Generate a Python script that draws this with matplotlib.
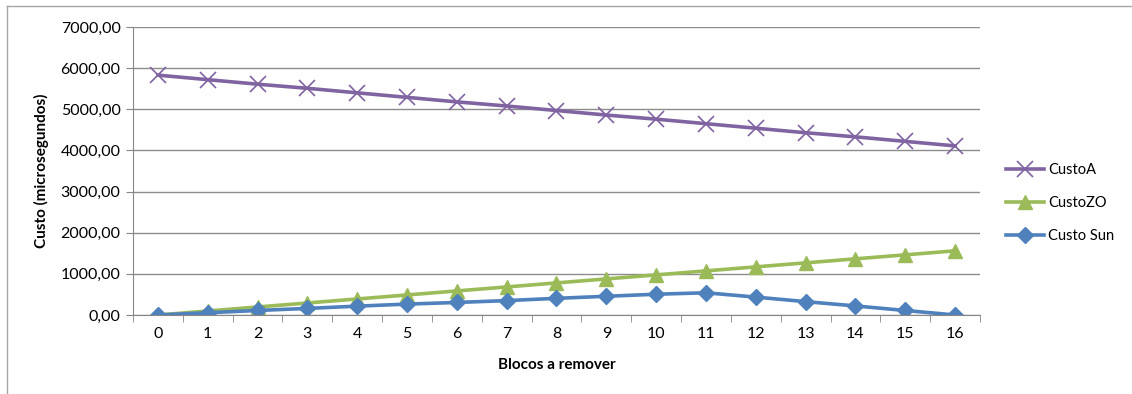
import matplotlib.pyplot as plt
from matplotlib.lines import Line2D
from matplotlib.ticker import FuncFormatter

plt.rcParams['font.family'] = ['Lato', 'DejaVu Sans']

blocos = list(range(17))
custo_a = [5830, 5720, 5610, 5510, 5400, 5290, 5180, 5080, 4970,
           4860, 4760, 4650, 4540, 4430, 4330, 4220, 4110]
custo_zo = [0, 97, 195, 292, 390, 487, 585, 682, 780,
            877, 975, 1072, 1170, 1267, 1365, 1462, 1560]
custo_sun = [0, 55, 110, 160, 215, 265, 305, 350, 405,
             455, 505, 540, 435, 325, 220, 110, 0]

fig = plt.figure(figsize=(11.32, 3.94), dpi=100)
ax = fig.add_axes([133/1132, 1-315/394, (980-133)/1132, (315-27)/394])

# outer frame (only left and top are visible in the reference)
fig.add_artist(Line2D([7/1132, 7/1132], [0, 1-6/394], color='#a6a6a6', lw=1))
fig.add_artist(Line2D([7/1132, 1], [1-6/394, 1-6/394], color='#a6a6a6', lw=1))

ax.plot(blocos, custo_a, color='#8064A2', lw=2.6, marker='x', ms=11, mew=1.2, label='CustoA')
ax.plot(blocos, custo_zo, color='#9BBB59', lw=2.6, marker='^', ms=10, label='CustoZO')
ax.plot(blocos, custo_sun, color='#4F81BD', lw=2.6, marker='D', ms=8, label='Custo Sun')

ax.set_xlim(-0.5, 16.5)
ax.set_ylim(0, 7000)
ax.set_yticks(range(0, 7001, 1000))
ax.yaxis.set_major_formatter(FuncFormatter(lambda v, p: f'{v:.2f}'.replace('.', ',')))
ax.set_xticks(blocos)
ax.set_xticks([i - 0.5 for i in range(18)], minor=True)
ax.tick_params(axis='x', which='major', length=0, pad=9, labelsize=11.5)
ax.tick_params(axis='x', which='minor', length=5, color='#868686', direction='out')
ax.tick_params(axis='y', length=5, color='#868686', labelsize=11.5, pad=4)

ax.grid(axis='y', color='#8c8c8c', lw=1)
ax.set_axisbelow(True)
for s in ['top', 'right']:
    ax.spines[s].set_visible(False)
for s in ['left', 'bottom']:
    ax.spines[s].set_color('#868686')

ax.set_xlabel('Blocos a remover', fontsize=11, fontweight='bold', labelpad=12)
ax.set_ylabel('Custo (microsegundos)', fontsize=11, fontweight='bold', labelpad=8)

ax.legend(loc='center left', bbox_to_anchor=(1.015, 0.39), frameon=False,
          fontsize=10.5, handlelength=2.6, handletextpad=0.3, labelspacing=1.3)

fig.savefig('out.png', dpi=100)
